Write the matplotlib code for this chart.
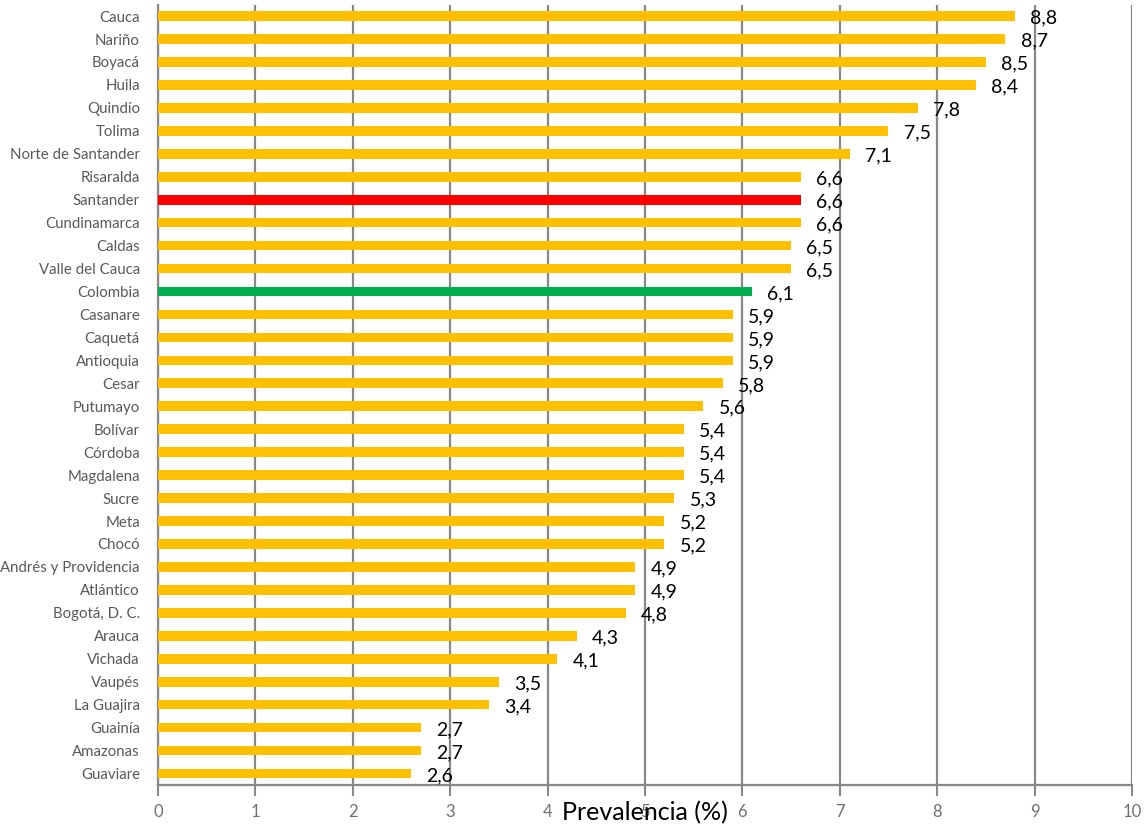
import matplotlib.pyplot as plt

# prevalencia por departamento (%)
departamentos = [
    "Cauca", "Nariño", "Boyacá", "Huila", "Quindío", "Tolima",
    "Norte de Santander", "Risaralda", "Santander", "Cundinamarca",
    "Caldas", "Valle del Cauca", "Colombia", "Casanare", "Caquetá",
    "Antioquia", "Cesar", "Putumayo", "Bolívar", "Córdoba", "Magdalena",
    "Sucre", "Meta", "Chocó", "Andrés y Providencia", "Atlántico",
    "Bogotá, D. C.", "Arauca", "Vichada", "Vaupés", "La Guajira",
    "Guainía", "Amazonas", "Guaviare",
]
prevalencia = [
    8.8, 8.7, 8.5, 8.4, 7.8, 7.5, 7.1, 6.6, 6.6, 6.6, 6.5, 6.5, 6.1,
    5.9, 5.9, 5.9, 5.8, 5.6, 5.4, 5.4, 5.4, 5.3, 5.2, 5.2, 4.9, 4.9,
    4.8, 4.3, 4.1, 3.5, 3.4, 2.7, 2.7, 2.6,
]
destacados = {"Santander": "#FF0000", "Colombia": "#00B050"}
x_ticks = list(range(0, 11))

plt.rcParams['font.family'] = ['Lato', 'DejaVu Sans']

fig = plt.figure(figsize=(11.44, 8.32), dpi=100)
ax = fig.add_axes([0.1381, 0.0565, 0.8514, 0.938])

colores = [destacados.get(d, "#FFC000") for d in departamentos]
y = list(range(len(departamentos)))
ax.barh(y, prevalencia, height=0.42, color=colores, zorder=3)

for yi, v in zip(y, prevalencia):
    ax.annotate(f"{v:.1f}".replace(".", ","), (v, yi), xytext=(11, -1.5),
                textcoords="offset points", va="center", ha="left",
                fontsize=14, color="black", zorder=4)

ax.set_ylim(len(departamentos) - 0.5, -0.5)
ax.set_xlim(0, 10)
ax.set_yticks(y)
ax.set_yticklabels(departamentos, fontsize=10.8, color="#595959")
ax.set_xticks(x_ticks)
ax.set_xticklabels([str(t) for t in x_ticks], fontsize=12, color="#707070")

ax.tick_params(axis="y", length=0, pad=13)
ax.tick_params(axis="x", length=8, width=1.5, color="#888888", pad=6)
ax.grid(axis="x", color="#888888", linewidth=1.6, zorder=0)

for s in ["top", "right"]:
    ax.spines[s].set_visible(False)
for s in ["left", "bottom"]:
    ax.spines[s].set_color("#888888")
    ax.spines[s].set_linewidth(1.6)

ax.set_xlabel("Prevalencia (%)", fontsize=18, color="black", labelpad=-14)

fig.savefig("out.png", dpi=100)
